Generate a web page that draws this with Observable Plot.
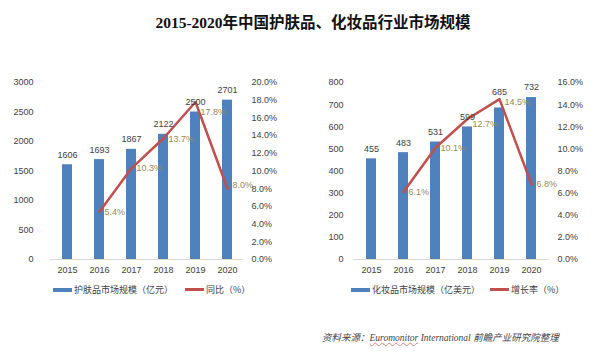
<!DOCTYPE html>
<html>
<head>
<meta charset="utf-8">
<script src="https://cdn.jsdelivr.net/npm/d3@7"></script>
<script src="https://cdn.jsdelivr.net/npm/@observablehq/plot@0.6"></script>
<style>
  html, body { margin: 0; padding: 0; background: #fff; }
  #root { position: relative; width: 600px; height: 360px; overflow: hidden; font-family: "Liberation Sans", "Noto Sans CJK SC", sans-serif; }
  #title { position: absolute; left: 0; width: 626px; top: 10px; text-align: center; font-family: "Liberation Serif", "Noto Sans CJK SC", serif; font-weight: bold; font-size: 15.5px; color: #111; }
  .chart { position: absolute; top: 60px; }
  .legend { position: absolute; font-size: 9px; color: #404040; font-family: "Noto Sans CJK SC", sans-serif; display: flex; align-items: center; white-space: nowrap; }
  .sw { display: inline-block; width: 19px; margin-right: 2px; }
  #source { position: absolute; left: 322px; top: 330px; font-size: 9.5px; font-style: italic; color: #444; font-family: "Liberation Serif", "Noto Sans CJK SC", serif; white-space: nowrap; }
  #source .u { text-decoration: underline wavy #e08080; text-decoration-thickness: 0.5px; }
</style>
</head>
<body>
<div id="root">
  <div id="title">2015-2020年中国护肤品、化妆品行业市场规模</div>
  <div id="c1" class="chart" style="left:0px"></div>
  <div id="c2" class="chart" style="left:300px"></div>
  <div class="legend" style="left:53px; top:283px"><span class="sw" style="height:4px;background:#4F81BD"></span>护肤品市场规模（亿元）</div>
  <div class="legend" style="left:185px; top:283px"><span class="sw" style="height:2.5px;background:#C0504D"></span>同比（%）</div>
  <div class="legend" style="left:351px; top:283px"><span class="sw" style="height:4px;background:#4F81BD"></span>化妆品市场规模（亿美元）</div>
  <div class="legend" style="left:490px; top:283px"><span class="sw" style="height:2.5px;background:#C0504D"></span>增长率（%）</div>
  <div id="source">资料来源：<span class="u">Euromonitor</span> International 前瞻产业研究院整理</div>
</div>
<script>
const years = ["2015", "2016", "2017", "2018", "2019", "2020"];
const skincareSize = [1606, 1693, 1867, 2122, 2500, 2701];
const skincareGrowth = [null, 5.4, 10.3, 13.7, 17.8, 8.0];
const cosmeticsSize = [455, 483, 531, 599, 685, 732];
const cosmeticsGrowth = [null, 6.1, 10.1, 12.7, 14.5, 6.8];
const leftTicks1 = [0, 500, 1000, 1500, 2000, 2500, 3000];
const rightTicks1 = [0, 2, 4, 6, 8, 10, 12, 14, 16, 18, 20];
const leftTicks2 = [0, 100, 200, 300, 400, 500, 600, 700, 800];
const rightTicks2 = [0, 2, 4, 6, 8, 10, 12, 14, 16];

function makeChart({sizes, growth, yMax, pMax, leftTicks, rightTicks, mL, mR, padL, padR, nudge, barNudge}) {
  const k = yMax / pMax;
  const bars = years.map((y, i) => ({year: y, v: sizes[i], i}));
  const line = years.map((y, i) => ({year: y, p: growth[i], i})).filter(d => d.p != null);
  return Plot.plot({
    width: 300, height: 225,
    marginLeft: mL, marginRight: mR, marginTop: 22, marginBottom: 26,
    style: {fontFamily: "Liberation Sans, sans-serif", fontSize: "9px", color: "#404040", background: "transparent"},
    x: {domain: years, paddingInner: 0.69, paddingOuter: 0.345, label: null},
    y: {domain: [0, yMax], label: null},
    marks: [
      Plot.barY(bars, {x: "year", y: "v", fill: "#4F81BD"}),
      Plot.ruleY([0], {stroke: "#d9d9d9"}),
      Plot.lineY(line, {x: "year", y: d => d.p * k, stroke: "#C0504D", strokeWidth: 2.5}),
      ...bars.map(d => Plot.text([d], {x: "year", y: "v", text: e => String(e.v), dy: -10 + (barNudge[d.i] || 0), fill: "#404040", fontSize: 9})),
      ...line.map(d => Plot.text([d], {x: "year", y: e => e.p * k, text: e => e.p.toFixed(1) + "%", dx: 5, dy: nudge[d.i] || 0, textAnchor: "start", fill: "#948A54", fontSize: 9})),
      Plot.axisX({tickSize: 0, tickPadding: 7, label: null, fill: "#404040"}),
      Plot.axisY({ticks: leftTicks, tickSize: 0, tickPadding: padL, label: null, fill: "#404040", tickFormat: v => String(v)}),
      Plot.axisY(rightTicks.map(p => p * k), {anchor: "right", tickSize: 0, tickPadding: padR, label: null, fill: "#404040", tickFormat: v => (v / k).toFixed(1) + "%"})
    ]
  });
}

document.getElementById("c1").appendChild(makeChart({
  sizes: skincareSize, growth: skincareGrowth, yMax: 3000, pMax: 20,
  leftTicks: leftTicks1, rightTicks: rightTicks1, mL: 50, mR: 57, padL: 17, padR: 8,
  nudge: {3: 1, 4: 10, 5: -4}, barNudge: {}
}));
document.getElementById("c2").appendChild(makeChart({
  sizes: cosmeticsSize, growth: cosmeticsGrowth, yMax: 800, pMax: 16,
  leftTicks: leftTicks2, rightTicks: rightTicks2, mL: 53, mR: 51, padL: 10, padR: 8,
  nudge: {3: 5, 4: 3}, barNudge: {4: -6}
}));
</script>
</body>
</html>
